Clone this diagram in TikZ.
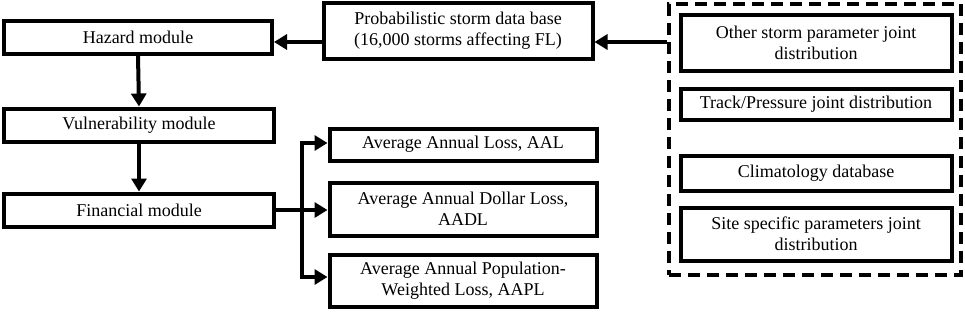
\documentclass[tikz,border=0pt]{standalone}
\usepackage{fontspec}
\setmainfont{Liberation Serif}
\usetikzlibrary{arrows.meta}
\begin{document}
\begin{tikzpicture}[x=1pt,y=-1pt,
  box/.style={draw=black,line width=4pt,rectangle,inner sep=0pt,align=center,
    font=\fontsize{18}{21}\selectfont},
  arr/.style={line width=4pt,-{Triangle[length=13pt,width=15pt]}},
  conn/.style={line width=4pt}]
\useasboundingbox (0,0) rectangle (965,313);
\node[box,minimum width=268pt,minimum height=33pt] (haz) at (138,37.5) {Hazard module};
\node[box,minimum width=270pt,minimum height=33pt] (vul) at (139,125) {Vulnerability module};
\node[box,minimum width=270pt,minimum height=33pt] (fin) at (139,210) {Financial module};
\node[box,minimum width=269pt,minimum height=55pt] (prob) at (458,31) {Probabilistic storm data base\\(16,000 storms affecting FL)};
\node[box,minimum width=267pt,minimum height=32pt] (aal) at (463,144.5) {Average Annual Loss, AAL};
\node[box,minimum width=267pt,minimum height=53pt] (aadl) at (463,209) {Average Annual Dollar Loss,\\AADL};
\node[box,minimum width=267pt,minimum height=52pt] (aapl) at (463,280.5) {Average Annual Population-\\Weighted Loss, AAPL};
\node[draw=black,line width=4pt,dash pattern=on 12pt off 7pt,rectangle,inner sep=0pt,
  minimum width=292pt,minimum height=271pt] (grp) at (815,139.5) {};
\node[box,minimum width=271pt,minimum height=55pt] (oth) at (816,43) {Other storm parameter joint\\distribution};
\node[box,minimum width=271pt,minimum height=31pt] (trk) at (816,104) {Track/Pressure joint distribution};
\node[box,minimum width=271pt,minimum height=35pt] (cli) at (816,173) {Climatology database};
\node[box,minimum width=271pt,minimum height=53pt] (site) at (816,234) {Site specific parameters joint\\distribution};
\coordinate (ya) at (0,42);
\coordinate (br) at (302,210);
\draw[arr] (grp.west |- ya) -- (prob.east |- ya);
\draw[arr] (prob.west |- ya) -- (haz.east |- ya);
\draw[arr] (haz.south) -- (vul.north);
\draw[arr] (vul.south) -- (fin.north);
\draw[arr] (fin.east |- br) -- (aadl.west |- br);
\draw[conn] (br |- 0,143) -- (br |- 0,277);
\draw[arr] ([xshift=-2pt]br |- 0,143) -- (aal.west |- 0,143);
\draw[arr] ([xshift=-2pt]br |- 0,277) -- (aapl.west |- 0,277);
\end{tikzpicture}
\end{document}
